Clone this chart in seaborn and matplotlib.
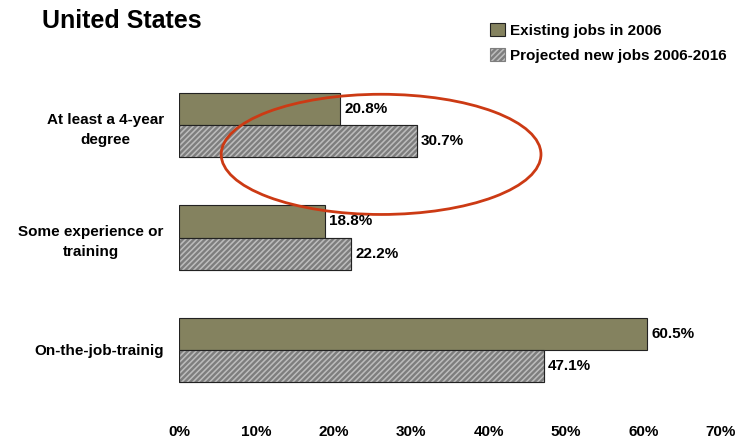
import matplotlib
matplotlib.use("Agg")
import matplotlib.pyplot as plt
from matplotlib.patches import Patch, Ellipse, Rectangle
import seaborn as sns
import pandas as pd

# data
categories = ["At least a 4-year\ndegree", "Some experience or\ntraining", "On-the-job-trainig"]
series = ["Existing jobs in 2006", "Projected new jobs 2006-2016"]
existing = [20.8, 18.8, 60.5]
projected = [30.7, 22.2, 47.1]
xticks = [0, 10, 20, 30, 40, 50, 60, 70]

df = pd.DataFrame({
    "category": categories * 2,
    "series": [series[0]] * 3 + [series[1]] * 3,
    "value": existing + projected,
})

sns.set_style("white")
plt.rcParams["font.family"] = ["Liberation Sans Narrow", "Liberation Sans", "DejaVu Sans"]
plt.rcParams["hatch.linewidth"] = 1.7
plt.rcParams["text.color"] = "black"
plt.rcParams["xtick.color"] = "black"
plt.rcParams["ytick.color"] = "black"

olive = "#84825f"
grey = "#bdbdbd"
hatch_col = "#7e7e7e"
edge = "#222222"

fig = plt.figure(figsize=(7.38, 4.46), dpi=100)
ax = fig.add_axes([179 / 738, (446 - 406) / 446, (721 - 179) / 738, (406 - 69) / 446])

sns.barplot(data=df, y="category", x="value", hue="series", orient="h",
            palette=[olive, grey], width=0.57, ax=ax, legend=False,
            edgecolor=edge, linewidth=0.8, saturation=1)

# hatch takes the edge colour, so hatch in grey and redraw a dark outline
for bar in ax.containers[1]:
    bar.set_hatch("//////")
    bar.set_facecolor(grey)
    bar.set_edgecolor(hatch_col)
    ax.add_patch(Rectangle(bar.get_xy(), bar.get_width(), bar.get_height(),
                           fill=False, edgecolor=edge, linewidth=0.8))

for cont in ax.containers:
    ax.bar_label(cont, fmt="%.1f%%", padding=3, fontsize=11, fontweight="bold")

ax.set_xlim(0, 70)
ax.set_ylim(2.5, -0.5)
ax.set_xticks(xticks)
ax.set_xticklabels([f"{t}%" for t in xticks], fontsize=11, fontweight="bold")
ax.set_yticks(range(len(categories)))
ax.set_yticklabels(categories, fontsize=11, fontweight="bold",
                   multialignment="center", linespacing=1.55)
ax.tick_params(axis="both", length=0)
ax.tick_params(axis="y", pad=11)
ax.tick_params(axis="x", pad=14)
ax.set_xlabel("")
ax.set_ylabel("")
for s in ax.spines.values():
    s.set_visible(False)

# red ellipse highlighting the degree group
ell = Ellipse((26.1, 0.26), 41.3, 1.07, fill=False, edgecolor="#cc3a14",
              linewidth=2, clip_on=False)
ax.add_patch(ell)

fig.text(42 / 738, 1 - 21 / 446, "United States", fontsize=18, fontweight="bold",
         va="center", ha="left")

handles = [Patch(facecolor=olive, edgecolor=edge, linewidth=0.8),
           Patch(facecolor=grey, edgecolor=hatch_col, linewidth=0.8, hatch="//////")]
fig.legend(handles, series, loc="upper left", bbox_to_anchor=(476 / 738, 1 - 9 / 446),
           frameon=False, prop={"weight": "bold", "size": 11},
           handlelength=1.0, handleheight=1.0, handletextpad=0.35, labelspacing=0.65)

fig.savefig("out.png", dpi=100)
